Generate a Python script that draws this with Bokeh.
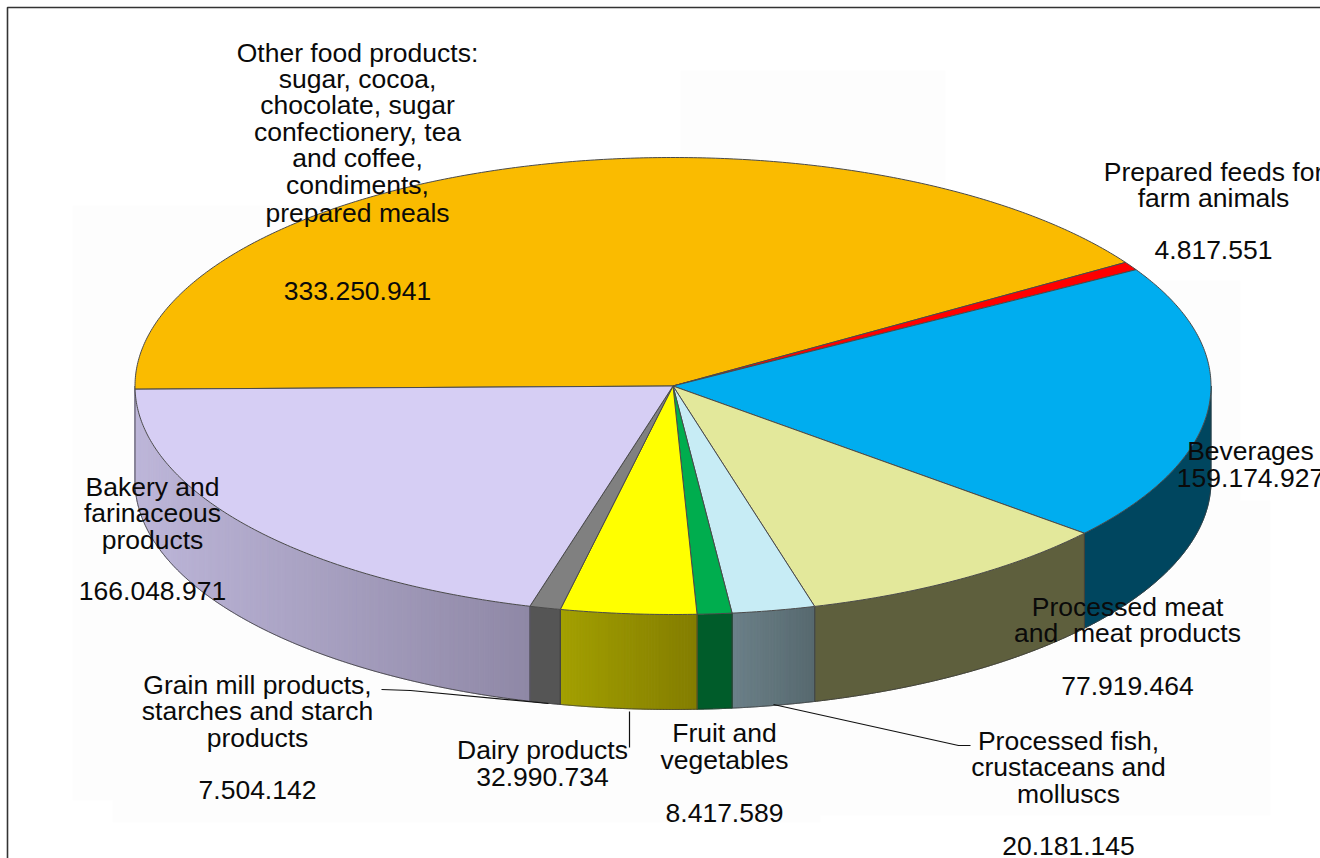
import numpy as np
from bokeh.core.properties import value
from bokeh.embed import file_html
from bokeh.models import ColumnDataSource, Range1d
from bokeh.plotting import figure
from bokeh.resources import INLINE

# Slices, clockwise from the left-hand edge of the pie
categories = [
    "Other food products", "Prepared feeds for farm animals", "Beverages",
    "Processed meat and meat products", "Processed fish, crustaceans and molluscs",
    "Fruit and vegetables", "Dairy products", "Grain mill products",
    "Bakery and farinaceous products",
]
amounts = [333250941, 4817551, 159174927, 77919464, 20181145, 8417589, 32990734, 7504142, 166048971]
top_colors = ["#fabb00", "#ff0000", "#00adef", "#e3e89b", "#c7ecf5", "#00ad4e", "#ffff00", "#808080", "#d6cef4"]
wall_left = ["#7d5d00", "#800000", "#00465f", "#5e5f3d", "#6b8088", "#005c2a", "#a3a000", "#555555", "#bdb6d9"]
wall_right = ["#7d5d00", "#800000", "#00465f", "#5e5f3d", "#57696f", "#005c2a", "#837d00", "#555555", "#8f88a6"]

# Text blocks: centre x, then (line, centre y) pairs
label_blocks = [
    (357, [("Other food products:", 52), ("sugar, cocoa,", 78), ("chocolate, sugar", 104),
           ("confectionery, tea", 131), ("and coffee,", 157), ("condiments,", 184),
           ("prepared meals", 212), ("333.250.941", 290)]),
    (1213, [("Prepared feeds for", 171), ("farm animals", 197), ("4.817.551", 249)]),
    (1250, [("Beverages", 450), ("159.174.927", 477)]),
    (1127, [("Processed meat", 606), ("and  meat products", 632), ("77.919.464", 685)]),
    (1068, [("Processed fish,", 740), ("crustaceans and", 766), ("molluscs", 793), ("20.181.145", 845)]),
    (724, [("Fruit and", 732), ("vegetables", 759), ("8.417.589", 812)]),
    (542, [("Dairy products", 749), ("32.990.734", 776)]),
    (257, [("Grain mill products,", 684), ("starches and starch", 710), ("products", 737), ("7.504.142", 789)]),
    (152, [("Bakery and", 486), ("farinaceous", 512), ("products", 539), ("166.048.971", 590)]),
]
leader_xs = [[381, 410, 548], [629, 629], [773, 958, 970]]
leader_ys = [[689, 690, 703], [711, 747], [704, 745, 745]]

CX, CY, RX, RY, DEPTH = 672.5, 385.5, 538, 228.5, 95
START_ANGLE = np.radians(180.8)
WIDTH, HEIGHT = 1320, 858


def rim(angles):
    return CX + RX * np.cos(angles), CY - RY * np.sin(angles)


def mix(c0, c1, t):
    a = [int(c0[i:i + 2], 16) for i in (1, 3, 5)]
    b = [int(c1[i:i + 2], 16) for i in (1, 3, 5)]
    return "#%02x%02x%02x" % tuple(round(x + (y - x) * t) for x, y in zip(a, b))


p = figure(width=WIDTH, height=HEIGHT, output_backend="svg", toolbar_location=None,
           x_range=Range1d(0, WIDTH), y_range=Range1d(HEIGHT, 0),
           min_border=0, outline_line_color=None, background_fill_color="white", border_fill_color="white")
p.axis.visible = False
p.grid.visible = False

# Faint off-white panels behind the pie and its labels
panel_l = [72, 112, 680, 415, 960]
panel_r = [1000, 820, 945, 1270, 1240]
panel_t = [205, 300, 70, 500, 280]
panel_b = [800, 822, 300, 815, 700]
p.quad(left=panel_l, right=panel_r, top=panel_t, bottom=panel_b, fill_color="#fdfdfd", line_color=None)

# Frame around the chart, running off the right and bottom of the page
p.line([7, 7, WIDTH], [HEIGHT, 7, 7], line_color="#333333", line_width=1.6)

fractions = np.array(amounts) / sum(amounts)
edges = START_ANGLE - 2 * np.pi * np.concatenate([[0], np.cumsum(fractions)])

# Side walls: only the part of each slice facing the viewer (lower half of the rim)
for i in range(len(amounts)):
    hi = min(edges[i], 0.0)
    lo = -np.pi if i == len(amounts) - 1 else edges[i + 1]
    if lo >= hi:
        continue
    arc = np.linspace(hi, lo, 180)
    x, y = rim(arc)
    x_left, x_right = x.min(), x.max()
    if wall_left[i] != wall_right[i]:
        # Shaded walls are laid down as narrow strips across the slice
        strips = max(int((x_right - x_left) / 3), 2)
        cuts = np.linspace(lo, hi, strips + 1)
        for a0, a1 in zip(cuts[:-1], cuts[1:]):
            sx, sy = rim(np.linspace(a0, a1, 8))
            t = (0.5 * (sx[0] + sx[-1]) - x_left) / (x_right - x_left)
            shade = mix(wall_left[i], wall_right[i], t)
            p.patch(np.r_[sx, sx[::-1]], np.r_[sy, sy[::-1] + DEPTH], fill_color=shade, line_color=shade, line_width=1)
    else:
        p.patch(np.r_[x, x[::-1]], np.r_[y, y[::-1] + DEPTH], fill_color=wall_left[i], line_color=wall_left[i], line_width=1)
    # Wall outline: down one side, along the lower rim, up the other side
    p.line(np.r_[x[0], x, x[-1]], np.r_[y[0], y + DEPTH, y[-1]], line_color="#3a3a3a", line_width=1, line_alpha=0.8)

# Top face of each slice
for i in range(len(amounts)):
    arc = np.linspace(edges[i], edges[i + 1], max(int(abs(edges[i] - edges[i + 1]) * 120), 4))
    x, y = rim(arc)
    p.patch(np.r_[CX, x], np.r_[CY, y], fill_color=top_colors[i], line_color="#4a4a4a", line_width=1)

for xs, ys in zip(leader_xs, leader_ys):
    p.line(xs, ys, line_color="#111111", line_width=1.2)

text_x, text_y, text_s = [], [], []
for cx, lines in label_blocks:
    for line, cy in lines:
        text_x.append(cx)
        text_y.append(cy)
        text_s.append(line.replace("  ", " \u00a0"))
p.text(x="x", y="y", text="text", source=ColumnDataSource(dict(x=text_x, y=text_y, text=text_s)),
       text_font=value("Liberation Sans"), text_font_size="26.5px", text_color="#0a0a0a",
       text_align="center", text_baseline="middle")

open("out.html", "w").write(file_html(p, INLINE))
